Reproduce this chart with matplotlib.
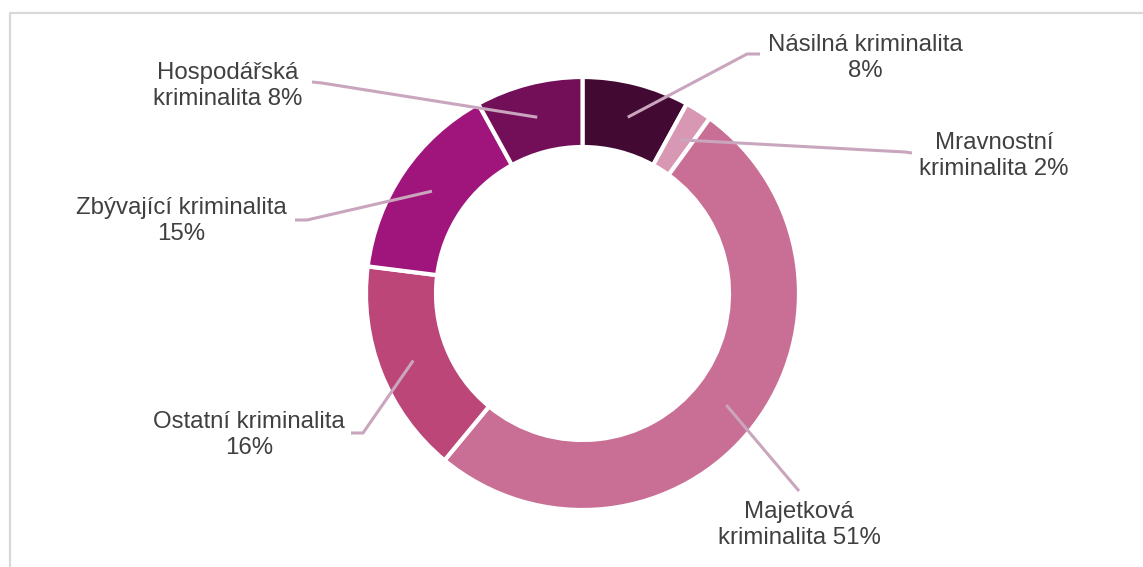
import matplotlib.pyplot as plt
import numpy as np

labels = ["Násilná\u00a0kriminalita\n8%", "Mravnostní\nkriminalita 2%", "Majetková\nkriminalita 51%",
          "Ostatní kriminalita\n16%", "Zbývající kriminalita\n15%", "Hospodářská\nkriminalita 8%"]
values = [8, 2, 51, 16, 15, 8]
colors = ["#420a33", "#d898b4", "#c96f95", "#bc4677", "#a0157c", "#720f58"]

# label layout in pixel coords (x, y from top): text centre, leader elbow points
text_pos = [(865, 58), (994, 156), (799, 525), (249, 435), (181, 221), (228, 86)]
elbows = [[(747, 54), (760, 54)],
          [(905, 152), (912, 153)],
          [(799, 491)],
          [(363, 433), (351, 433)],
          [(307, 220), (295, 220)],
          [(322, 83), (312, 82)]]

W, H = 1143, 567
fig = plt.figure(figsize=(W / 100, H / 100), dpi=100)
ax = fig.add_axes([0, 0, 1, 1])

cx, cy = 582.5, H - 293.5
ax.pie(values, colors=colors, startangle=90, counterclock=False, center=(cx, cy),
       radius=216.5, wedgeprops=dict(width=70, edgecolor="white", linewidth=3))

ax.set_xlim(0, W)
ax.set_ylim(0, H)
ax.set_aspect("equal")
ax.axis("off")

# frame
ax.plot([10, 10, W + 5], [-5, H - 13, H - 13], color="#d9d9d9", lw=1.6, clip_on=False)

cum = np.cumsum(values)
for i, lab in enumerate(labels):
    th = np.radians((cum[i] - values[i] / 2) / sum(values) * 360)
    r = 182
    xs = [cx + r * np.sin(th)] + [p[0] for p in elbows[i]]
    ys = [cy + r * np.cos(th)] + [H - p[1] for p in elbows[i]]
    ax.plot(xs, ys, color="#c9a6bd", lw=2.2, solid_capstyle="butt")
    tx, ty = text_pos[i]
    ax.text(tx, H - ty, lab, ha="center", va="center", multialignment="center",
            fontsize=17.3, color="#404040", family="Liberation Sans", linespacing=1.25)

fig.savefig("out.png", dpi=100)
